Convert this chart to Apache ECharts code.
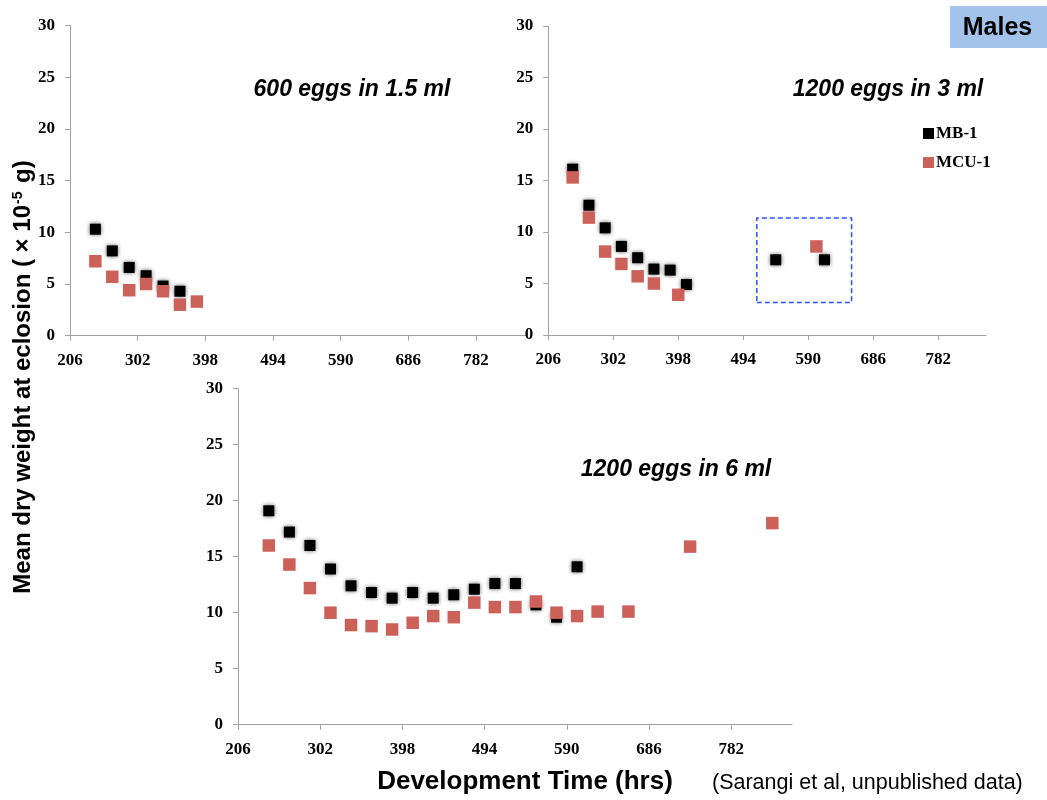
<!DOCTYPE html>
<html>
<head>
<meta charset="utf-8">
<title>Males - dry weight vs development time</title>
<script src="https://cdn.jsdelivr.net/npm/echarts@6/dist/echarts.min.js"></script>
<style>
	html, body { margin: 0; padding: 0; background: #fff; }
	#chart { width: 1047px; height: 800px; }
</style>
</head>
<body>
<div id="chart"></div>
<script>
// x tick labels shared by all three panels
var hourTicks = [206, 302, 398, 494, 590, 686, 782];

// 600 eggs in 1.5 ml
var hours15_MB = [242, 266, 290, 314, 338, 362];
var weight15_MB = [10.3, 8.2, 6.6, 5.8, 4.8, 4.3];
var hours15_MCU = [242, 266, 290, 314, 338, 362, 386];
var weight15_MCU = [7.2, 5.7, 4.4, 5.0, 4.3, 3.0, 3.3];

// 1200 eggs in 3 ml
var hours3_MB = [242, 266, 290, 314, 338, 362, 386, 410, 542, 614];
var weight3_MB = [16.1, 12.6, 10.4, 8.6, 7.5, 6.4, 6.3, 4.9, 7.3, 7.3];
var hours3_MCU = [242, 266, 290, 314, 338, 362, 398, 602];
var weight3_MCU = [15.3, 11.4, 8.1, 6.9, 5.7, 5.0, 3.9, 8.6];
// dashed box around the late eclosers: [x from, y from], [x to, y to]
var boxFrom = [514, 3.15];
var boxTo = [654, 11.35];

// 1200 eggs in 6 ml
var hours6_MB = [242, 266, 290, 314, 338, 362, 386, 410, 434, 458, 482, 506, 530, 554, 578, 602];
var weight6_MB = [19.1, 17.2, 16.0, 13.9, 12.4, 11.8, 11.3, 11.8, 11.3, 11.6, 12.1, 12.6, 12.6, 10.7, 9.6, 14.1];
var hours6_MCU = [242, 266, 290, 314, 338, 362, 386, 410, 434, 458, 482, 506, 530, 554, 578, 602, 626, 662, 734, 830];
var weight6_MCU = [16.0, 14.3, 12.2, 10.0, 8.9, 8.8, 8.5, 9.1, 9.7, 9.6, 10.9, 10.5, 10.5, 11.0, 10.0, 9.7, 10.1, 10.1, 15.9, 18.0];

var seriesNames = ['MB-1', 'MCU-1'];

var chart = echarts.init(document.getElementById('chart'));

var serif = 'Liberation Serif, Times New Roman, serif';
var sans = 'Liberation Sans, Arial, sans-serif';
var axisGray = '#a3a3a3';

function pairs(xs, ys) {
	return xs.map(function (x, i) { return [x, ys[i]]; });
}

function xAxisFor(gridIndex) {
	return {
		type: 'value',
		gridIndex: gridIndex,
		min: 206,
		max: 853,
		splitLine: { show: false },
		axisLine: { show: true, lineStyle: { color: axisGray, width: 1 } },
		axisTick: { show: true, length: 5, customValues: hourTicks, lineStyle: { color: axisGray } },
		axisLabel: {
			customValues: hourTicks,
			margin: 16,
			color: '#000',
			fontFamily: serif,
			fontWeight: 'bold',
			fontSize: 17
		}
	};
}

function yAxisFor(gridIndex) {
	return {
		type: 'value',
		gridIndex: gridIndex,
		min: 0,
		max: 30,
		interval: 5,
		splitLine: { show: false },
		axisLine: { show: true, lineStyle: { color: axisGray, width: 1 } },
		axisTick: { show: true, length: 5, lineStyle: { color: axisGray } },
		axisLabel: {
			margin: 15,
			color: '#000',
			fontFamily: serif,
			fontWeight: 'bold',
			fontSize: 17
		}
	};
}

var blackStyle = { color: '#000', opacity: 1, shadowBlur: 4, shadowColor: 'rgba(0,0,0,0.6)' };
var redStyle = { color: '#cc615a', opacity: 1 };

function mbSeries(idx, xs, ys) {
	return {
		name: seriesNames[0],
		type: 'scatter',
		xAxisIndex: idx,
		yAxisIndex: idx,
		symbol: 'rect',
		symbolSize: 11,
		itemStyle: blackStyle,
		emphasis: { disabled: true },
		data: pairs(xs, ys)
	};
}

function mcuSeries(idx, xs, ys) {
	return {
		name: seriesNames[1],
		type: 'scatter',
		xAxisIndex: idx,
		yAxisIndex: idx,
		symbol: 'rect',
		symbolSize: 12.5,
		itemStyle: redStyle,
		emphasis: { disabled: true },
		data: pairs(xs, ys)
	};
}

var boxed = mbSeries(1, hours3_MB, weight3_MB);
boxed.markArea = {
	silent: true,
	itemStyle: {
		color: 'rgba(0,0,0,0)',
		borderColor: '#2d52ec',
		borderWidth: 1.5,
		borderType: [5, 3]
	},
	data: [[
		{ xAxis: boxFrom[0], yAxis: boxFrom[1] },
		{ xAxis: boxTo[0], yAxis: boxTo[1] }
	]]
};

function panelText(text, x, y) {
	return {
		type: 'text',
		x: x,
		y: y,
		style: {
			text: text,
			fill: '#000',
			font: 'italic bold 23px ' + sans,
			textAlign: 'center',
			textVerticalAlign: 'middle'
		}
	};
}

chart.setOption({
	animation: false,
	backgroundColor: '#fff',
	grid: [
		{ left: 70, top: 25.5, width: 456, height: 310.2, outerBoundsMode: 'none' },
		{ left: 548.3, top: 26, width: 438, height: 309, outerBoundsMode: 'none' },
		{ left: 238, top: 388.7, width: 554, height: 336, outerBoundsMode: 'none' }
	],
	xAxis: [xAxisFor(0), xAxisFor(1), xAxisFor(2)],
	yAxis: [yAxisFor(0), yAxisFor(1), yAxisFor(2)],
	legend: {
		data: seriesNames,
		orient: 'vertical',
		left: 923,
		top: 125,
		padding: 0,
		itemWidth: 11,
		itemHeight: 11,
		itemGap: 12,
		icon: 'rect',
		selectedMode: false,
		itemStyle: { shadowBlur: 0, opacity: 1 },
		textStyle: { color: '#000', fontFamily: serif, fontWeight: 'bold', fontSize: 17, padding: [0, 0, 0, -3] }
	},
	series: [
		mbSeries(0, hours15_MB, weight15_MB),
		mcuSeries(0, hours15_MCU, weight15_MCU),
		boxed,
		mcuSeries(1, hours3_MCU, weight3_MCU),
		mbSeries(2, hours6_MB, weight6_MB),
		mcuSeries(2, hours6_MCU, weight6_MCU)
	],
	graphic: [
		panelText('600 eggs in 1.5 ml', 352, 89.5),
		panelText('1200 eggs in 3 ml', 888, 89.5),
		panelText('1200 eggs in 6 ml', 676, 469.5),
		{
			type: 'rect',
			shape: { x: 950, y: 6, width: 97, height: 42 },
			style: { fill: '#a3c3ea' }
		},
		{
			type: 'text',
			x: 997.5,
			y: 28.5,
			style: {
				text: 'Males',
				fill: '#000',
				font: 'bold 25px ' + sans,
				textAlign: 'center',
				textVerticalAlign: 'middle'
			}
		},
		{
			// y axis title, written bottom to top
			type: 'text',
			x: 23,
			y: 377,
			rotation: Math.PI / 2,
			style: {
				text: 'Mean dry weight at eclosion ( × 10{sup|-5} g)',
				fill: '#000',
				font: 'bold 24px ' + sans,
				textAlign: 'center',
				textVerticalAlign: 'middle',
				rich: {
					sup: { font: 'bold 14px ' + sans, fill: '#000', verticalAlign: 'top', padding: [0, 2, 6, 1] }
				}
			}
		},
		{
			type: 'text',
			x: 525,
			y: 782,
			style: {
				text: 'Development Time (hrs)',
				fill: '#000',
				font: 'bold 26px ' + sans,
				textAlign: 'center',
				textVerticalAlign: 'middle'
			}
		},
		{
			type: 'text',
			x: 712,
			y: 783,
			style: {
				text: '(Sarangi et al, unpublished data)',
				fill: '#000',
				font: '21.5px Liberation Sans Narrow, Arial Narrow, ' + sans,
				textAlign: 'left',
				textVerticalAlign: 'middle'
			}
		}
	]
});
</script>
</body>
</html>
